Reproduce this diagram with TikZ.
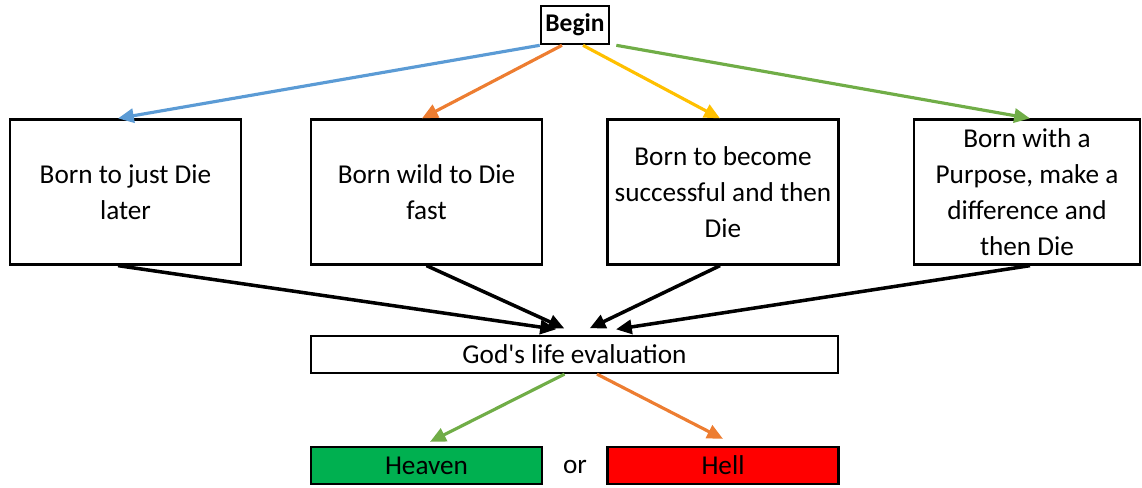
\documentclass[tikz,border=0pt]{standalone}
\usepackage{fontspec}
\setmainfont{Carlito}
\usetikzlibrary{arrows.meta}
\usetikzlibrary{calc}

\definecolor{offblue}{HTML}{5B9BD5}
\definecolor{offorange}{HTML}{ED7D31}
\definecolor{offyellow}{HTML}{FFC000}
\definecolor{offgreen}{HTML}{70AD47}
\definecolor{heavengreen}{HTML}{00B050}

\begin{document}
\begin{tikzpicture}[x=0.02cm,y=-0.02cm,
  font=\fontsize{15.5}{20.4}\selectfont,
  box/.style={draw=black,line width=1.3pt,inner sep=0pt,align=center,
    minimum width=4.62cm,minimum height=2.9cm},
  bar/.style={draw=black,line width=1.3pt,inner sep=0pt,
    minimum width=4.62cm,minimum height=0.74cm},
  arr/.style={line width=1.8pt,-{Triangle[length=9pt,width=8pt]}},
  blk/.style={arr,line width=2pt,shorten >=2pt}]
\useasboundingbox (0,0) rectangle (1142,487);
\node[draw=black,line width=1.5pt,inner sep=2pt,minimum width=1.36cm,
  minimum height=0.76cm,font=\fontsize{14.5}{17}\selectfont\bfseries] (begin) at (575,25) {Begin};
\node[box] (b1) at (125.5,192) {Born to just Die\\later};
\node[box] (b2) at (426.5,192) {Born wild to Die\\fast};
\node[box] (b3) at (723,192) {Born to become\\successful and then\\Die};
\node[box,minimum width=4.52cm] (b4) at (1027,192) {Born with a\\Purpose, make a\\difference and\\then Die};
\node[bar,minimum width=10.54cm] (god) at (574.5,354.5) {God\textquotesingle s life evaluation};
\node[bar,fill=heavengreen] (heaven) at (426.5,465.5) {Heaven};
\node[bar,fill=red] (hell) at (723,465.5) {Hell};
\node (or) at (575,467) {or};
\draw[arr,offblue] (begin.south west) -- ([xshift=-0.15cm]b1.north);
\draw[arr,offorange] ([xshift=-0.26cm]begin.south) -- ([xshift=-0.09cm]b2.north);
\draw[arr,offyellow] ([xshift=0.16cm]begin.south) -- ([xshift=-0.06cm]b3.north);
\draw[arr,offgreen] ([xshift=0.12cm]begin.south east) -- ([xshift=0.06cm]b4.north);
\draw[blk] ([xshift=-0.15cm]b1.south) -- ([xshift=-0.3cm,yshift=0.1cm]god.north);
\draw[blk] (b2.south) -- ([xshift=-0.14cm,yshift=0.1cm]god.north);
\draw[blk] ([xshift=-0.06cm]b3.south) -- ([xshift=0.24cm,yshift=0.1cm]god.north);
\draw[blk] ([xshift=0.06cm]b4.south) -- ([xshift=0.76cm,yshift=0.1cm]god.north);
\draw[arr,offgreen] ([xshift=-0.2cm]god.south) -- ([xshift=0.07cm,yshift=0.08cm]heaven.north);
\draw[arr,offorange] ([xshift=0.45cm]god.south) -- ([yshift=0.14cm]hell.north);
\end{tikzpicture}
\end{document}
